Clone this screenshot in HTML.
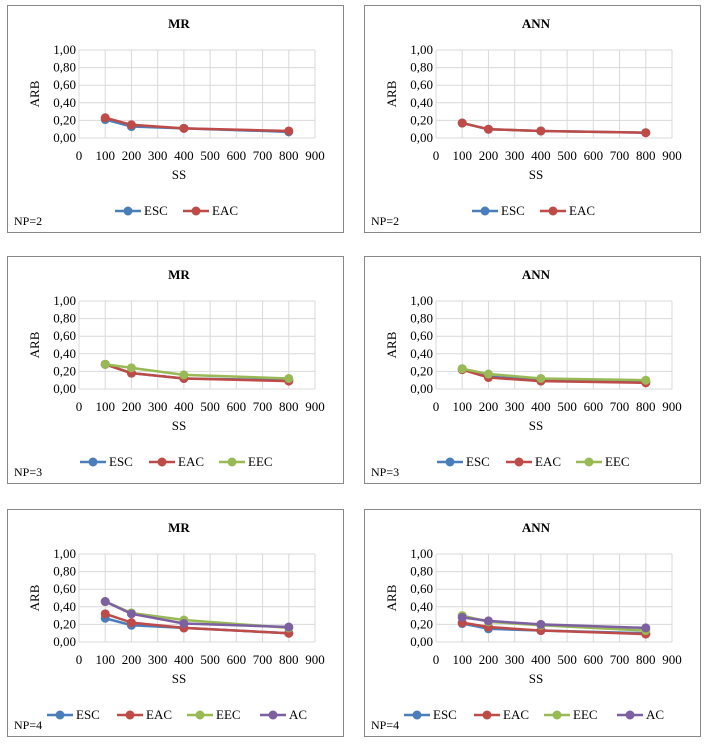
<!DOCTYPE html>
<html><head><meta charset="utf-8"><style>
body{margin:0;background:#fff;}
svg{display:block;}
text{font-family:"Liberation Serif","Times New Roman",serif;}
</style></head><body>
<svg id="s" width="710" height="746" xmlns="http://www.w3.org/2000/svg"></svg>
<script>
const F='font-family="Liberation Serif, Times New Roman, serif"';
const C={ESC:"#4a7ebb",EAC:"#be4b48",EEC:"#98b954",AC:"#7d60a0"};
const panels=[
 {x:0,y:5,t:"MR",np:2,d:{ESC:[.21,.13,.11,.07],EAC:[.23,.15,.11,.08]}},
 {x:357,y:5,t:"ANN",np:2,d:{ESC:[.17,.10,.08,.06],EAC:[.17,.10,.08,.06]}},
 {x:0,y:256,t:"MR",np:3,d:{ESC:[.28,.18,.12,.10],EAC:[.28,.18,.12,.09],EEC:[.28,.24,.16,.12]}},
 {x:357,y:256,t:"ANN",np:3,d:{ESC:[.23,.14,.10,.08],EAC:[.22,.13,.09,.07],EEC:[.23,.17,.12,.10]}},
 {x:0,y:509,t:"MR",np:4,d:{ESC:[.27,.19,.16,.10],EAC:[.32,.22,.16,.10],EEC:[.46,.33,.25,.16],AC:[.46,.32,.21,.17]}},
 {x:357,y:509,t:"ANN",np:4,d:{ESC:[.21,.15,.13,.10],EAC:[.22,.17,.13,.09],EEC:[.30,.23,.19,.13],AC:[.28,.24,.20,.16]}}
];
const leg={2:[[115,"ESC"],[183,"EAC"]],3:[[80,"ESC"],[149,"EAC"],[219,"EEC"]],4:[[47,"ESC"],[117,"EAC"],[187,"EEC"],[260,"AC"]]};
let h="";
for(const p of panels){
 const ox=p.x,oy=p.y;
 h+=`<rect x="${ox+7.5}" y="${oy+0.5}" width="336" height="227" fill="#fff" stroke="#888" stroke-width="1"/>`;
 h+=`<text ${F} x="${ox+179}" y="${oy+23}" font-size="13" font-weight="bold" text-anchor="middle">${p.t}</text>`;
 const x0=ox+79,x1=ox+315,yt=oy+45,yb=oy+133;
 const X=v=>x0+(x1-x0)*v/900, Y=v=>yb-(yb-yt)*v;
 for(let i=0;i<=9;i++){h+=`<line x1="${X(i*100)}" y1="${yt}" x2="${X(i*100)}" y2="${yb}" stroke="#d9d9d9"/>`;
  h+=`<text ${F} x="${X(i*100)}" y="${yb+22}" font-size="13" text-anchor="middle">${i*100}</text>`;}
 for(let i=0;i<=5;i++){h+=`<line x1="${x0}" y1="${Y(i*.2)}" x2="${x1}" y2="${Y(i*.2)}" stroke="#d9d9d9"/>`;
  h+=`<text ${F} x="${x0-3}" y="${Y(i*.2)+4}" font-size="13" text-anchor="end">${(i*.2).toFixed(2).replace(".",",")}</text>`;}
 h+=`<text ${F} x="${ox+179}" y="${yb+41}" font-size="13" text-anchor="middle">SS</text>`;
 h+=`<text ${F} transform="translate(${ox+39},${(yt+yb)/2}) rotate(-90)" font-size="13" text-anchor="middle">ARB</text>`;
 const xs=[100,200,400,800];
 for(const k in p.d){const pts=p.d[k].map((v,i)=>[X(xs[i]),Y(v)]);
  h+=`<polyline points="${pts.map(q=>q.join(",")).join(" ")}" fill="none" stroke="${C[k]}" stroke-width="2.5"/>`;
  for(const q of pts)h+=`<circle cx="${q[0]}" cy="${q[1]}" r="4.5" fill="${C[k]}"/>`;}
 for(const [lx,k] of leg[p.np]){h+=`<line x1="${ox+lx}" y1="${oy+206}" x2="${ox+lx+26}" y2="${oy+206}" stroke="${C[k]}" stroke-width="2.5"/><circle cx="${ox+lx+13}" cy="${oy+206}" r="4.5" fill="${C[k]}"/><text ${F} x="${ox+lx+29}" y="${oy+210}" font-size="13">${k}</text>`;}
 h+=`<text ${F} x="${ox+14}" y="${oy+220}" font-size="12">NP=${p.np}</text>`;
}
document.getElementById("s").innerHTML=h;
</script>
</body></html>
